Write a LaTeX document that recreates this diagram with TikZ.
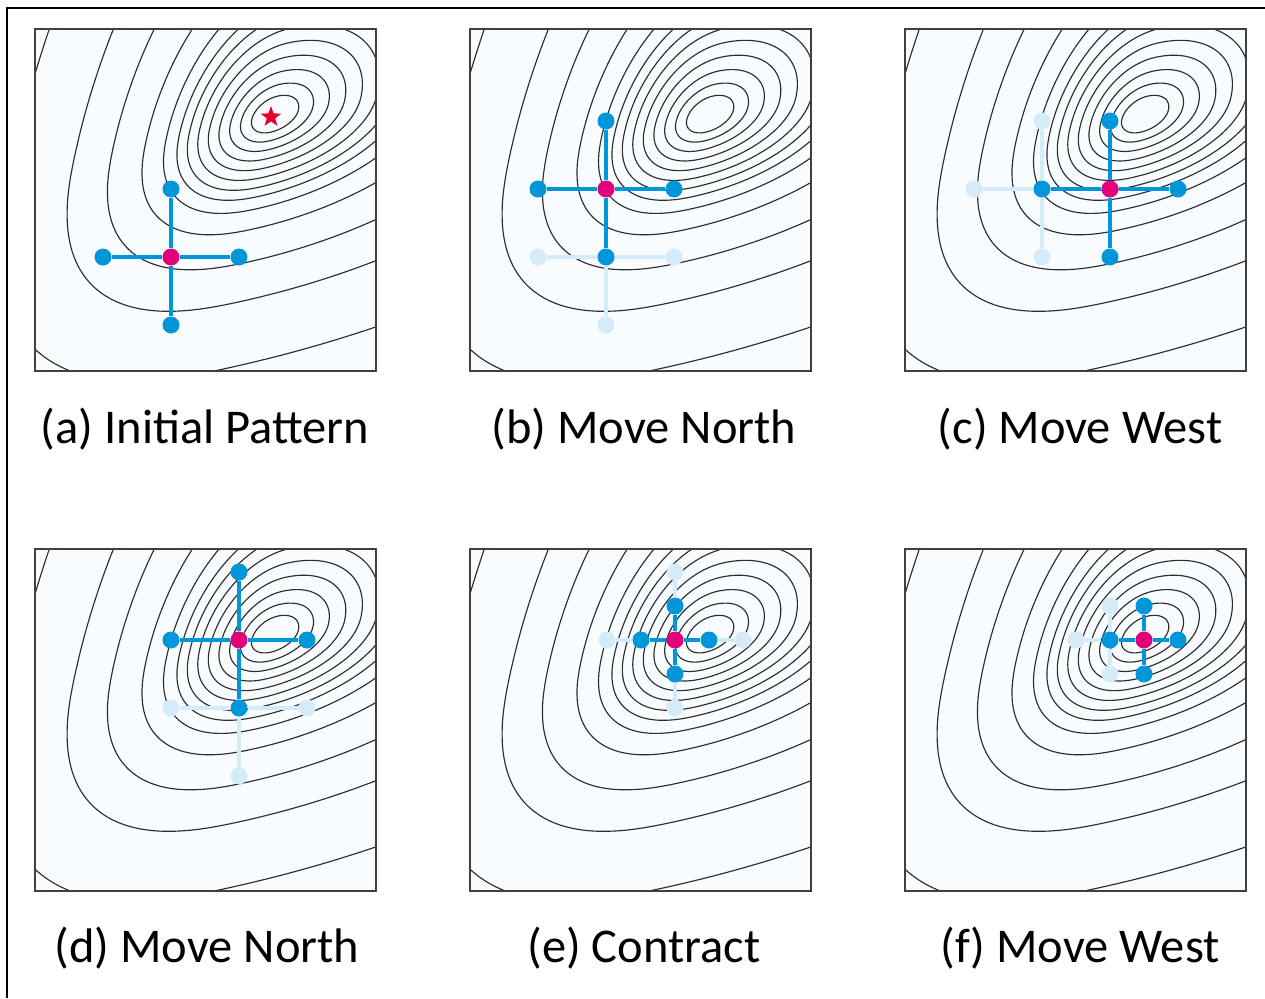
\documentclass[tikz,border=0pt]{standalone}
\usepackage{fontspec}
\setmainfont{Carlito}
\usetikzlibrary{shapes.geometric}
\definecolor{cblue}{RGB}{0,150,218}
\definecolor{clight}{RGB}{212,236,249}
\definecolor{cmag}{RGB}{226,0,122}
\definecolor{cstar}{RGB}{228,0,43}
\definecolor{pfill}{RGB}{249,252,254}
\definecolor{cline}{RGB}{45,45,45}
\newcount\ctAng
\gdef\allcontours{}
\newcommand\onecontour[1]{%
  \pgfmathsetmacro\ctRR{#1/100}%
  \pgfmathsetmacro\ctT{#1*(1+0.5*\ctRR*\ctRR/(\ctRR*\ctRR+0.16)+0.5*\ctRR^4/(\ctRR^4+10.4976))}%
  \pgfmathsetmacro\ctE{2/(2+0.5*\ctRR*\ctRR/(\ctRR*\ctRR+1))}%
  \pgfmathsetmacro\ctF{1+0.16*exp(-#1/120)}%
  \def\ctPts{}%
  \ctAng=1
  \loop
    \pgfmathsetmacro\ctC{cos(\the\ctAng)}%
    \pgfmathsetmacro\ctS{sin(\the\ctAng)}%
    \ifdim\ctC pt<0pt
      \pgfmathsetmacro\ctSv{-#1*pow(abs(\ctC),\ctE)*\ctF}%
    \else
      \pgfmathsetmacro\ctSv{\ctT*\ctC*\ctF}%
    \fi
    \ifdim\ctS pt<0pt
      \pgfmathsetmacro\ctTv{-#1*pow(abs(\ctS),\ctE)/\ctF}%
    \else
      \pgfmathsetmacro\ctTv{\ctT*\ctS/\ctF}%
    \fi
    \pgfmathsetmacro\ctX{239+0.9781*\ctSv+0.2079*\ctTv}%
    \pgfmathsetmacro\ctY{256+0.2079*\ctSv+0.9781*\ctTv}%
    \edef\ctPts{\ctPts(\ctX,\ctY)}%
    \advance\ctAng by 2
  \ifnum\ctAng<360 \repeat
  \xdef\allcontours{\unexpanded\expandafter{\allcontours}\noexpand\draw[contour] plot[smooth cycle] coordinates {\ctPts};}%
}
\newcommand\panelat[1]{%
  \begin{scope}[shift={#1},yscale=-1]
    \fill[pfill] (0,0) rectangle (341,342);
    \begin{scope}
      \clip (0,0) rectangle (341,342);
      \allcontours
    \end{scope}
    \draw[pborder] (0,0) rectangle (341,342);
  \end{scope}}
\begin{document}
\begin{tikzpicture}[x=1pt,y=-1pt,
  contour/.style={draw=cline,line width=1.15pt,line join=round},
  pborder/.style={draw=black!75,line width=1.8pt},
  dotb/.style={circle,fill=cblue,minimum size=17pt,inner sep=0pt},
  dotl/.style={circle,fill=clight,minimum size=17pt,inner sep=0pt},
  dotm/.style={circle,fill=cmag,minimum size=17pt,inner sep=0pt},
  armb/.style={draw=cblue,line width=4pt},
  arml/.style={draw=clight,line width=4pt},
  caption/.style={anchor=base,font=\fontsize{48.5}{52}\selectfont,inner sep=0pt}]
\onecontour{265}\onecontour{198}\onecontour{158}\onecontour{124}
\onecontour{103}\onecontour{90}\onecontour{80}\onecontour{70}
\onecontour{60}\onecontour{50}\onecontour{40}\onecontour{30}\onecontour{20}
\useasboundingbox (0,0) rectangle (1265,998);
\fill[white] (0,0) rectangle (1265,998);
\draw[line width=1.5pt] (7,998) -- (7,8) -- (1265,8);
% panels
\panelat{(35,371)}
\panelat{(470,371)}
\panelat{(905,371)}
\panelat{(35,891)}
\panelat{(470,891)}
\panelat{(905,891)}
% star
\node[star,star points=5,star point ratio=2.5,fill=cstar,minimum size=22pt,inner sep=0pt] (minstar) at (271,117) {};
% (a)
\node[dotb] (an) at (171,189) {};
\node[dotb] (as) at (171,325) {};
\node[dotb] (aw) at (103,257) {};
\node[dotb] (ae) at (239,257) {};
\node[dotm] (ac) at (171,257) {};
\draw[armb] (ac) -- (an);
\draw[armb] (ac) -- (as);
\draw[armb] (ac) -- (aw);
\draw[armb] (ac) -- (ae);
% (b)
\node[dotl] (blw) at (538,257) {};
\node[dotl] (ble) at (674,257) {};
\node[dotl] (bls) at (606,325) {};
\node[dotb] (bs) at (606,257) {};
\node[dotb] (bn) at (606,121) {};
\node[dotb] (bw) at (538,189) {};
\node[dotb] (be) at (674,189) {};
\node[dotm] (bc) at (606,189) {};
\draw[arml] (bs) -- (blw);
\draw[arml] (bs) -- (ble);
\draw[arml] (bs) -- (bls);
\draw[armb] (bc) -- (bn);
\draw[armb] (bc) -- (bw);
\draw[armb] (bc) -- (be);
\draw[armb] (bc) -- (bs);
% (c)
\node[dotl] (cln) at (1042,121) {};
\node[dotl] (clw) at (974,189) {};
\node[dotl] (cls) at (1042,257) {};
\node[dotb] (cw) at (1042,189) {};
\node[dotb] (cn) at (1110,121) {};
\node[dotb] (cs) at (1110,257) {};
\node[dotb] (ce) at (1178,189) {};
\node[dotm] (cc) at (1110,189) {};
\draw[arml] (cw) -- (cln);
\draw[arml] (cw) -- (cls);
\draw[arml] (cw) -- (clw);
\draw[armb] (cc) -- (cn);
\draw[armb] (cc) -- (cs);
\draw[armb] (cc) -- (ce);
\draw[armb] (cc) -- (cw);
% (d)
\node[dotl] (dlw) at (171,708) {};
\node[dotl] (dle) at (307,708) {};
\node[dotl] (dls) at (239,776) {};
\node[dotb] (ds) at (239,708) {};
\node[dotb] (dn) at (239,572) {};
\node[dotb] (dw) at (171,640) {};
\node[dotb] (de) at (307,640) {};
\node[dotm] (dc) at (239,640) {};
\draw[arml] (ds) -- (dlw);
\draw[arml] (ds) -- (dle);
\draw[arml] (ds) -- (dls);
\draw[armb] (dc) -- (dn);
\draw[armb] (dc) -- (dw);
\draw[armb] (dc) -- (de);
\draw[armb] (dc) -- (ds);
% (e)
\node[dotl] (eln) at (675,572) {};
\node[dotl] (els) at (675,708) {};
\node[dotl] (elw) at (607,640) {};
\node[dotl] (ele) at (743,640) {};
\node[dotb] (en) at (675,606) {};
\node[dotb] (es) at (675,674) {};
\node[dotb] (ew) at (641,640) {};
\node[dotb] (ee) at (709,640) {};
\node[dotm] (ec) at (675,640) {};
\draw[arml] (en) -- (eln);
\draw[arml] (es) -- (els);
\draw[arml] (ew) -- (elw);
\draw[arml] (ee) -- (ele);
\draw[armb] (ec) -- (en);
\draw[armb] (ec) -- (es);
\draw[armb] (ec) -- (ew);
\draw[armb] (ec) -- (ee);
% (f)
\node[dotl] (fln) at (1110,606) {};
\node[dotl] (fls) at (1110,674) {};
\node[dotl] (flw) at (1076,640) {};
\node[dotb] (fw) at (1110,640) {};
\node[dotb] (fn) at (1144,606) {};
\node[dotb] (fs) at (1144,674) {};
\node[dotb] (fe) at (1178,640) {};
\node[dotm] (fc) at (1144,640) {};
\draw[arml] (fw) -- (fln);
\draw[arml] (fw) -- (fls);
\draw[arml] (fw) -- (flw);
\draw[armb] (fc) -- (fn);
\draw[armb] (fc) -- (fs);
\draw[armb] (fc) -- (fe);
\draw[armb] (fc) -- (fw);
% captions
\node[caption] (capa) at (205,443) {(a) Initial Pattern};
\node[caption] (capb) at (644,443) {(b) Move North};
\node[caption] (capc) at (1080,443) {(c) Move West};
\node[caption] (capd) at (207,962) {(d) Move North};
\node[caption] (cape) at (644,962) {(e) Contract};
\node[caption] (capf) at (1080,962) {(f) Move West};
\end{tikzpicture}
\end{document}
